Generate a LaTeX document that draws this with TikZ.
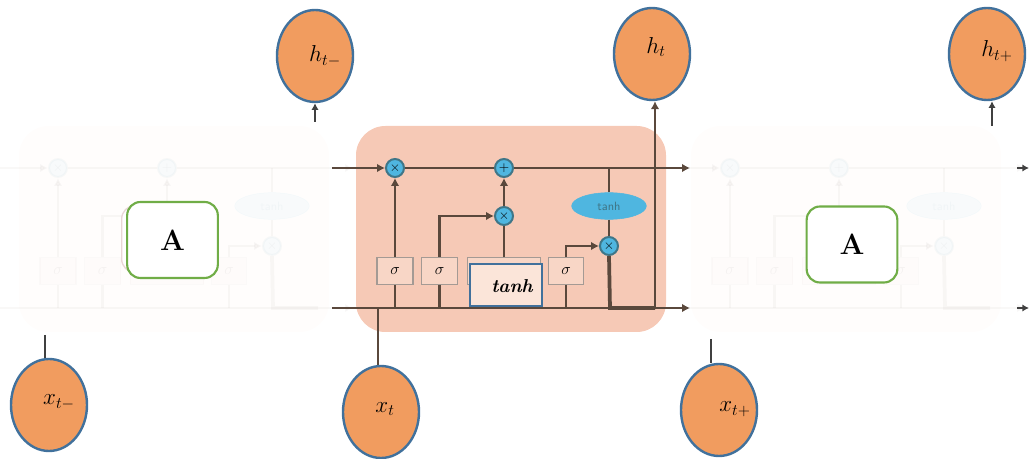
\documentclass[tikz,border=0pt]{standalone}
\usepackage{amsmath}
\usetikzlibrary{arrows.meta,shapes.geometric}
\definecolor{wirecol}{HTML}{5A483C}
\definecolor{cellcol}{HTML}{F6C9B6}
\definecolor{gatecol}{HTML}{4FB6E0}
\definecolor{gateline}{HTML}{3F7688}
\definecolor{ballcol}{HTML}{F19C5F}
\definecolor{ballline}{HTML}{41719C}
\definecolor{boxcol}{HTML}{FBE5D9}
\definecolor{leafgreen}{HTML}{70AD47}
\tikzset{
  wire/.style={draw=wirecol,line width=2.2pt},
  wirearrow/.style={wire,-{Latex[length=6pt,width=6.5pt]}},
  stub/.style={draw=black!75,line width=1.7pt},
  stubarrow/.style={stub,-{Latex[length=5pt,width=5.5pt]}},
  ball/.style={ellipse,draw=ballline,fill=ballcol,line width=1.8pt,minimum width=57pt,minimum height=69pt,inner sep=0pt},
  balltext/.style={inner sep=0pt,font=\fontsize{16.5}{16.5}\selectfont},
  gate/.style={circle,draw=gateline,fill=gatecol,line width=1.5pt,minimum size=13.5pt,inner sep=0pt,font=\fontsize{10}{10}\selectfont\bfseries},
  sigbox/.style={rectangle,draw=wirecol!55,fill=boxcol!45!cellcol,line width=0.9pt,minimum width=27pt,minimum height=20pt,inner sep=0pt,font=\fontsize{13}{13}\selectfont},
  tanhgate/.style={ellipse,fill=gatecol,draw=gatecol,minimum width=56pt,minimum height=20pt,inner sep=0pt,text=gateline,font=\sffamily\fontsize{9}{9}\selectfont},
  abox/.style={rectangle,rounded corners=10pt,draw=leafgreen,fill=white,line width=1.6pt,minimum width=68pt,minimum height=57pt,inner sep=0pt,font=\bfseries\fontsize{22}{22}\selectfont}
}
\begin{document}
\begin{tikzpicture}[x=0.75pt,y=-0.75pt]
\clip (0,0) rectangle (1029,459);
\foreach \dx/\pn/\op in {-337/l/0.04,335/r/0.04,0/m/1}{
\begin{scope}[shift={(\dx,0)},opacity=\op]
\fill[cellcol,rounded corners=22pt] (356,126) rectangle (666,332);
\coordinate (\pn-topin) at (332,168);
\coordinate (\pn-topout) at (690,168);
\coordinate (\pn-botin) at (332,308);
\coordinate (\pn-botout) at (690,308);
\coordinate (\pn-join) at (655,308);
\coordinate (\pn-bend) at (610,308);
\coordinate (\pn-fork) at (566,308);
\node[sigbox] (\pn-sigA) at (395,271) {$\sigma$};
\node[sigbox] (\pn-sigB) at (439.5,271) {$\sigma$};
\node[sigbox,minimum width=55pt] (\pn-sigC) at (504,271) {};
\node[sigbox,minimum width=26pt] (\pn-sigD) at (566,271) {$\sigma$};
\node[gate] (\pn-mulA) at (395,168) {$\times$};
\node[gate] (\pn-addA) at (504,168) {$+$};
\node[gate] (\pn-mulB) at (504,216) {$\times$};
\node[gate] (\pn-mulC) at (609,246) {$\times$};
\node[tanhgate] (\pn-tanh) at (609,206) {tanh};
\draw[wirearrow] (\pn-topin) -- (\pn-mulA);
\draw[wire] (\pn-mulA) -- (\pn-addA);
\draw[wirearrow] (\pn-addA) -- (\pn-topout);
\draw[wirearrow] (\pn-botin) -- (\pn-botout);
\draw[wirearrow] (\pn-sigA.north) -- (\pn-mulA.south);
\draw[wire] (\pn-sigA.south) -- (\pn-sigA.south |- \pn-botin);
\draw[wirearrow] (\pn-sigB.north) |- (\pn-mulB.west);
\draw[wire] (\pn-sigB.south) -- (\pn-sigB.south |- \pn-botin);
\draw[wire] (\pn-sigC.north) -- (\pn-mulB.south);
\draw[wirearrow] (\pn-mulB.north) -- (\pn-addA.south);
\draw[wire] (\pn-sigD.south) -- (\pn-fork);
\draw[wirearrow] (\pn-sigD.north) |- (\pn-mulC.west);
\draw[wire] (\pn-tanh.north) -- (\pn-tanh.north |- \pn-topin);
\draw[wire] (\pn-tanh.south) -- (\pn-mulC.north);
\draw[wire,line width=2.8pt] (\pn-mulC.south) -- (\pn-bend) -- (\pn-join);
\end{scope}
}
\node[ball] (hA) at (315,56) {};
\node[ball] (hB) at (652,54) {};
\node[ball] (hC) at (987,54) {};
\node[ball] (xA) at (49,405) {};
\node[ball] (xB) at (381,412) {};
\node[ball] (xC) at (719,410) {};
\node[balltext] (hAtext) at (325,56) {$h_{t-}$};
\node[balltext] (hBtext) at (656,47) {$h_{t}$};
\node[balltext] (hCtext) at (997,51) {$h_{t+}$};
\node[balltext] (xAtext) at (59,402) {$x_{t-}$};
\node[balltext] (xBtext) at (385,409) {$x_{t}$};
\node[balltext] (xCtext) at (735,409) {$x_{t+}$};
\coordinate (hAfoot) at (315,122);
\coordinate (hCfoot) at (992,126);
\coordinate (xAfoot) at (45,335);
\coordinate (xCfoot) at (711,339);
\coordinate (xBfoot) at (378,308);
\coordinate (rtop) at (1017,168);
\coordinate (rtopend) at (1029,168);
\coordinate (rbot) at (1017,308);
\coordinate (rbotend) at (1029,308);
\draw[stubarrow] (hAfoot) -- (hAfoot |- hA.south);
\draw[stubarrow] (hCfoot) -- (hCfoot |- hC.south);
\draw[stub] (xAfoot) -- (xAfoot |- xA.north);
\draw[stub] (xCfoot) -- (xCfoot |- xC.north);
\draw[stubarrow] (rtop) -- (rtopend);
\draw[stubarrow] (rbot) -- (rbotend);
\draw[wirearrow] (m-join) -- (m-join |- hB.south);
\draw[wire] (xBfoot) -- (xBfoot |- xB.north);
\node[rectangle,draw=ballline,fill=boxcol,line width=1.5pt,minimum width=54pt,minimum height=32pt,inner sep=0pt] (tanhbox) at (506,285) {};
\node[inner sep=0pt,font=\bfseries\itshape\fontsize{14}{14}\selectfont] (tanhtext) at (512,286) {tanh};
\node[rectangle,rounded corners=10pt,draw=red!30!gray!25,fill=white,line width=1pt,minimum width=62pt,minimum height=50pt] (aback) at (163,239) {};
\node[abox] (cellA) at (172.5,240) {A};
\node[abox] (cellC) at (852,244.5) {A};
\end{tikzpicture}
\end{document}
